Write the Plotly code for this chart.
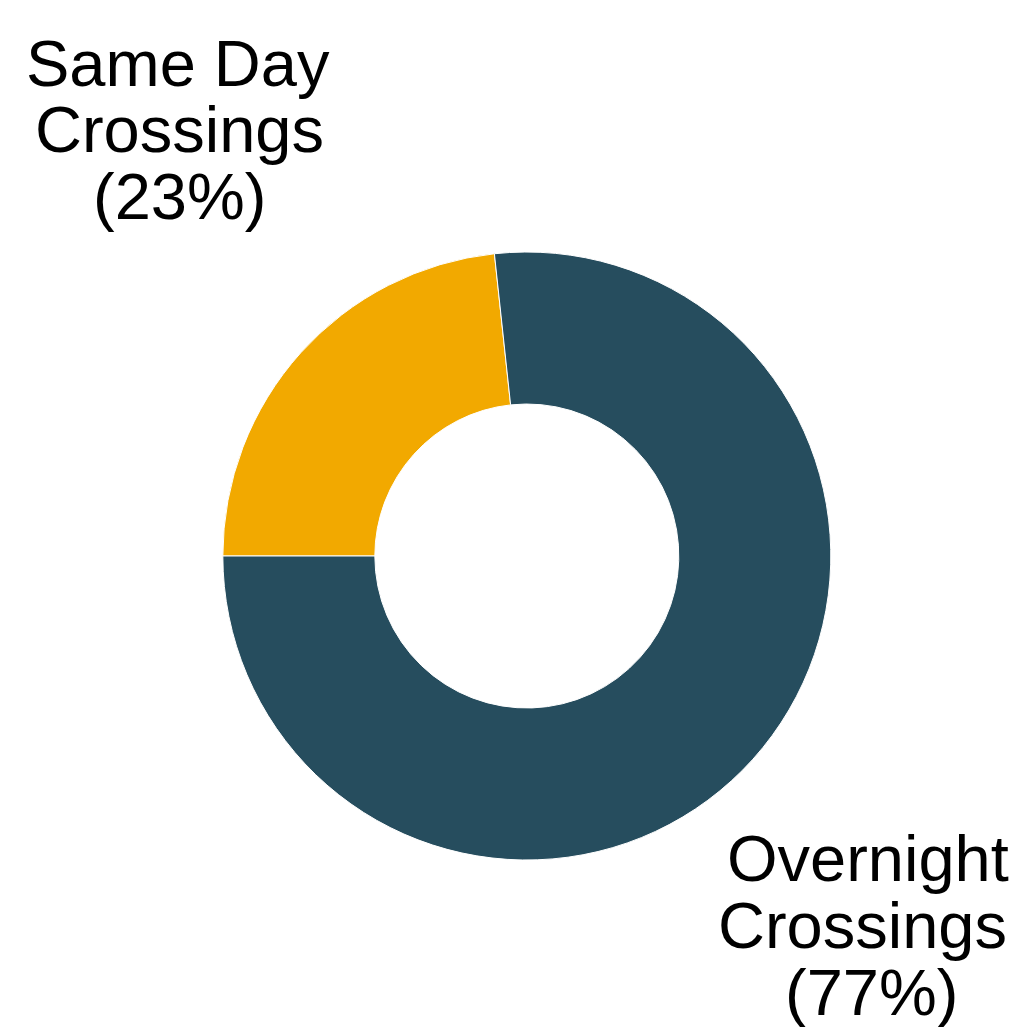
import plotly.graph_objects as go

# Data
label_lines = [["Same Day", "Crossings"], ["Overnight", "Crossings"]]
labels = ["Same Day Crossings", "Overnight Crossings"]
values = [23.3, 76.7]
colors = ["#F2A900", "#264D5E"]

W, H = 1019, 1027
OFF = 8  # page body margin offset

fig = go.Figure()
fig.add_trace(go.Pie(
    labels=labels,
    values=values,
    hole=0.5,
    sort=False,
    direction="clockwise",
    rotation=270,
    marker=dict(colors=colors, line=dict(color="white", width=1)),
    textinfo="none",
    hoverinfo="label+percent",
    showlegend=False,
    domain=dict(x=[0.2108, 0.8075], y=[0.1704, 0.7624]),
))

total = sum(values)
# label anchor centers (pixels from top-left of page) for each label block
label_pos = [(178, 63), (866, 858)]
line_dx = [[0, 1, 1], [2, -4, 5]]
line_step = 67
font = dict(family="Arial, Liberation Sans, sans-serif", size=65, color="black")
for i, lines in enumerate(label_lines):
    pct = round(values[i] / total * 100)
    all_lines = lines + [f"({pct}%)"]
    cx, cy = label_pos[i]
    for j, txt in enumerate(all_lines):
        y_px = cy + j * line_step - OFF
        x_px = cx + line_dx[i][j] - OFF
        fig.add_annotation(
            x=x_px / W, y=1 - y_px / H, xref="paper", yref="paper",
            text=txt, showarrow=False, xanchor="center", yanchor="middle",
            font=font,
        )

fig.update_layout(
    width=W, height=H,
    margin=dict(l=0, r=0, t=0, b=0),
    paper_bgcolor="white",
    plot_bgcolor="white",
)

fig.write_html("out.html")
